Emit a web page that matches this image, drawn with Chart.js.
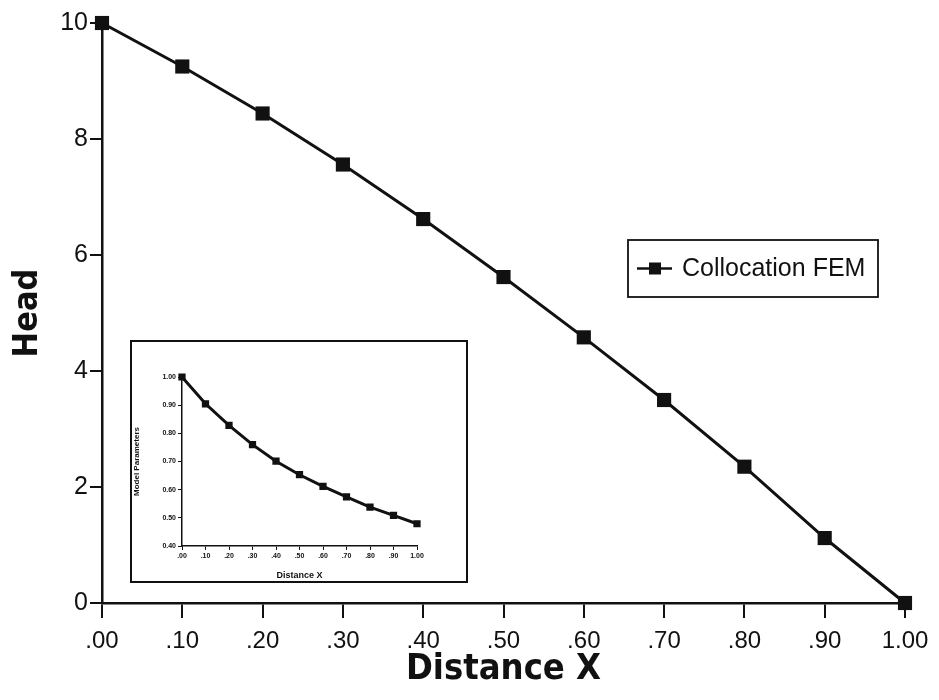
<!DOCTYPE html>
<html>
<head>
<meta charset="utf-8">
<script src="https://cdn.jsdelivr.net/npm/chart.js@4.4.0/dist/chart.umd.min.js"></script>
<style>
  body { margin: 0; background: #fff; }
  #wrap { position: relative; width: 939px; height: 700px; }
  #inset {
    position: absolute; left: 130px; top: 340px;
    width: 334px; height: 239px;
    border: 2px solid #111; background: #fff;
  }
</style>
</head>
<body>
<div id="wrap">
  <canvas id="headChart" width="939" height="700"></canvas>
  <div id="inset"><canvas id="paramChart" width="334" height="239"></canvas></div>
</div>
<script>
const distance = [0, 0.1, 0.2, 0.3, 0.4, 0.5, 0.6, 0.7, 0.8, 0.9, 1.0];
const head = [10, 9.25, 8.44, 7.56, 6.62, 5.62, 4.58, 3.5, 2.35, 1.12, 0];
const modelParams = [1.0, 0.905, 0.828, 0.76, 0.701, 0.653, 0.612, 0.574, 0.538, 0.509, 0.479];
const seriesName = 'Collocation FEM';

const ink = '#111';
const titleFont = "'Liberation Sans Narrow', 'DejaVu Sans Condensed', sans-serif";

function fmtX(v) {
  const s = Number(v).toFixed(2);
  return s.startsWith('0') ? s.slice(1) : s;
}
function toPts(ys) {
  return distance.map((x, i) => ({ x: x, y: ys[i] }));
}

// boxed legend on the right side of the main plot
const boxLegend = {
  id: 'boxLegend',
  afterDraw(chart) {
    const ds = chart.data.datasets[0];
    const c = chart.ctx;
    const x0 = 628, y0 = 240, w = 250, h = 57;
    c.save();
    c.fillStyle = '#fff';
    c.fillRect(x0, y0, w, h);
    c.strokeStyle = ink;
    c.lineWidth = 1.8;
    c.strokeRect(x0, y0, w, h);
    const cy = y0 + h / 2;
    c.lineWidth = 2.5;
    c.beginPath();
    c.moveTo(x0 + 9, cy);
    c.lineTo(x0 + 44, cy);
    c.stroke();
    c.fillStyle = ink;
    c.fillRect(x0 + 21, cy - 6, 12, 12);
    c.font = "25px 'Liberation Sans', sans-serif";
    c.textBaseline = 'middle';
    c.fillText(ds.label, x0 + 54, cy + 1);
    c.restore();
  }
};

new Chart(document.getElementById('headChart'), {
  type: 'line',
  data: {
    datasets: [{
      label: seriesName,
      data: toPts(head),
      borderColor: ink,
      backgroundColor: ink,
      borderWidth: 3,
      pointStyle: 'rect',
      pointRadius: 10,
      pointBorderWidth: 0,
      tension: 0,
      clip: false
    }]
  },
  options: {
    responsive: false,
    animation: false,
    layout: { padding: { top: 23, right: 34, left: 0, bottom: 0 } },
    plugins: { legend: { display: false }, tooltip: { enabled: false } },
    scales: {
      x: {
        type: 'linear', min: 0, max: 1,
        afterFit(s) { s.height = 97; },
        ticks: {
          stepSize: 0.1, color: ink, padding: 9,
          font: { family: "'Liberation Sans', sans-serif", size: 24 },
          callback: v => fmtX(v)
        },
        grid: { drawOnChartArea: false, color: ink, lineWidth: 2, tickLength: 15 },
        border: { color: ink, width: 2.5 },
        title: {
          display: true, text: 'Distance X', color: ink, padding: { top: 0, bottom: 9 },
          font: { family: titleFont, size: 36, weight: 'bold' }
        }
      },
      y: {
        min: 0, max: 10,
        afterFit(s) { s.width = 102; },
        ticks: {
          stepSize: 2, color: ink, padding: 2,
          font: { family: "'Liberation Sans', sans-serif", size: 25 }
        },
        grid: { drawOnChartArea: false, color: ink, lineWidth: 2, tickLength: 12 },
        border: { color: ink, width: 2.5 },
        title: {
          display: true, text: 'Head', color: ink, padding: { top: 8, bottom: 0 },
          font: { family: titleFont, size: 34, weight: 'bold' }
        }
      }
    }
  },
  plugins: [boxLegend]
});

new Chart(document.getElementById('paramChart'), {
  type: 'line',
  data: {
    datasets: [{
      label: 'Model Parameters',
      data: toPts(modelParams),
      borderColor: ink,
      backgroundColor: ink,
      borderWidth: 3,
      pointStyle: 'rect',
      pointRadius: 3,
      tension: 0,
      clip: false
    }]
  },
  options: {
    responsive: false,
    animation: false,
    layout: { padding: { top: 35, right: 49, left: 0, bottom: 0 } },
    plugins: { legend: { display: false }, tooltip: { enabled: false } },
    scales: {
      x: {
        type: 'linear', min: 0, max: 1,
        afterFit(s) { s.height = 35; },
        ticks: {
          stepSize: 0.1, color: ink, padding: 2,
          font: { family: "'Liberation Sans', sans-serif", size: 7, weight: 'bold' },
          callback: v => fmtX(v)
        },
        grid: { drawOnChartArea: false, color: ink, lineWidth: 1, tickLength: 4 },
        border: { color: ink, width: 1.5 },
        title: {
          display: true, text: 'Distance X', color: ink, padding: 0,
          font: { family: "'Liberation Sans', sans-serif", size: 9, weight: 'bold' }
        }
      },
      y: {
        min: 0.4, max: 1.0,
        afterFit(s) { s.width = 50; },
        ticks: {
          stepSize: 0.1, color: ink, padding: 2,
          font: { family: "'Liberation Sans', sans-serif", size: 7, weight: 'bold' },
          callback: v => Number(v).toFixed(2)
        },
        grid: { drawOnChartArea: false, color: ink, lineWidth: 1, tickLength: 4 },
        border: { color: ink, width: 1.5 },
        title: {
          display: true, text: 'Model Parameters', color: ink, padding: 0,
          font: { family: "'Liberation Sans', sans-serif", size: 8, weight: 'bold' }
        }
      }
    }
  }
});
</script>
</body>
</html>
